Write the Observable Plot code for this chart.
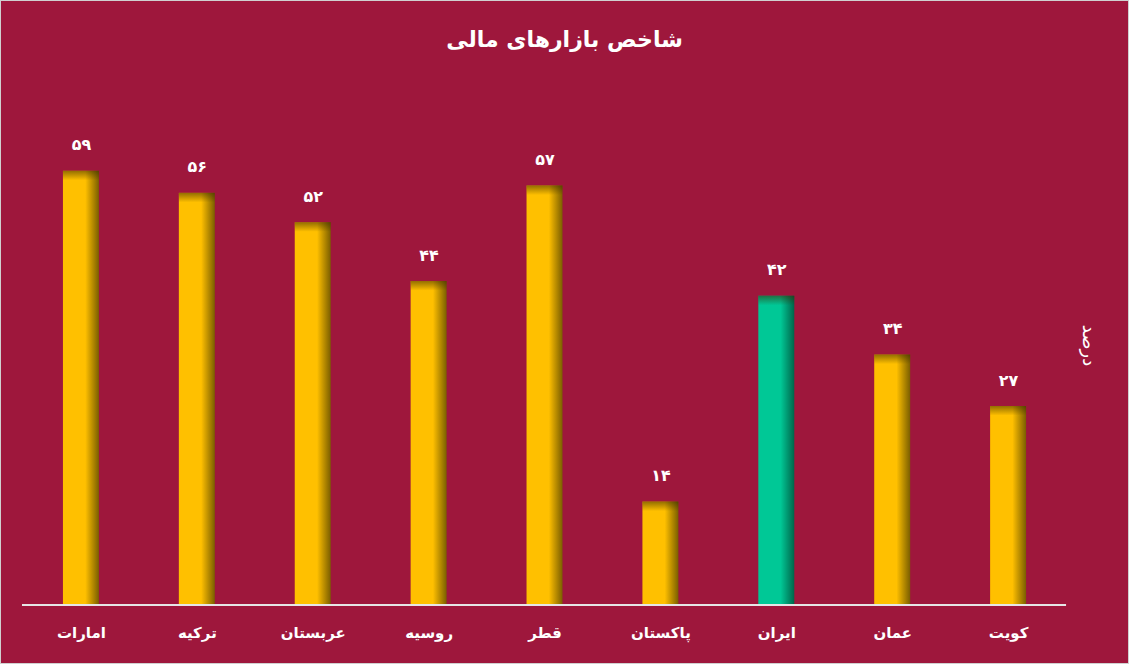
<!DOCTYPE html>
<html><head><meta charset="utf-8">
<script src="https://cdn.jsdelivr.net/npm/d3@7"></script>
<script src="https://cdn.jsdelivr.net/npm/@observablehq/plot@0.6"></script>
<style>
body{margin:0;background:#fff;}
#wrap{position:relative;width:1127px;height:662px;background:#9E173C;border:1px solid #d0d0d0;overflow:hidden;font-family:"DejaVu Sans",sans-serif;}
#title{position:absolute;left:0;right:0;top:26px;text-align:center;color:#fff;font-weight:bold;font-size:22px;direction:rtl;}
#chart{position:absolute;left:-1px;top:-1px;}
</style></head>
<body>
<div id="wrap"><div id="chart"></div><div id="title">شاخص بازارهای مالی</div></div>
<script>
const countries = ["امارات","ترکیه","عربستان","روسیه","قطر","پاکستان","ایران","عمان","کویت"];
const values = [59,56,52,44,57,14,42,34,27];
const highlight = "ایران";
const yLabel = "درصد";

const data = countries.map((c,i)=>({country:c, value:values[i], hi:c===highlight}));
const fa = n => String(n).replace(/\d/g, d => "۰۱۲۳۴۵۶۷۸۹"[d]);

const defs = () => {
  const d = d3.create("svg:defs");
  const mk = (id, base, dark) => {
    const g = d.append("linearGradient").attr("id", id).attr("x1","0").attr("x2","1").attr("y1","0").attr("y2","0");
    g.append("stop").attr("offset","0").attr("stop-color", base);
    g.append("stop").attr("offset","0.62").attr("stop-color", base);
    g.append("stop").attr("offset","1").attr("stop-color", dark);
  };
  mk("gy","#FFC000","#7A5E00");
  mk("gg","#00C896","#00654A");
  const t = d.append("linearGradient").attr("id","gt").attr("x1","0").attr("x2","0").attr("y1","0").attr("y2","1");
  t.append("stop").attr("offset","0").attr("stop-color","#3a2a00").attr("stop-opacity",0.55);
  t.append("stop").attr("offset","1").attr("stop-color","#3a2a00").attr("stop-opacity",0);
  return d.node();
};

const chart = Plot.plot({
  width: 1129, height: 664,
  marginLeft: 22, marginRight: 62, marginTop: 90, marginBottom: 59,
  style: {background: "transparent", color: "#fff", fontFamily: "DejaVu Sans, sans-serif"},
  x: {domain: countries, paddingInner: 0.69, paddingOuter: 0.345, label: null},
  y: {domain: [0, 70], axis: null},
  marks: [
    defs,
    Plot.barY(data, {x: "country", y: "value", fill: d => d.hi ? "url(#gg)" : "url(#gy)"}),
    Plot.barY(data, {x: "country", y1: d => d.value - 1.3, y2: "value", fill: "url(#gt)"}),
    Plot.ruleY([0], {stroke: "#e6e6e6", strokeWidth: 2}),
    Plot.text(data, {x: "country", y: "value", text: d => fa(d.value), dy: -26, fill: "#fff", fontWeight: "bold", fontSize: 16}),
    Plot.axisX({tickSize: 0, tickPadding: 22, fontSize: 15, fontWeight: "bold", fill: "#fff", label: null}),
    Plot.text([yLabel], {frameAnchor: "right", textAnchor: "middle", dx: 22, y: [35.3], text: d => d, rotate: 90, fill: "#fff", fontSize: 18})
  ]
});
document.getElementById("chart").appendChild(chart);
</script>
</body></html>
